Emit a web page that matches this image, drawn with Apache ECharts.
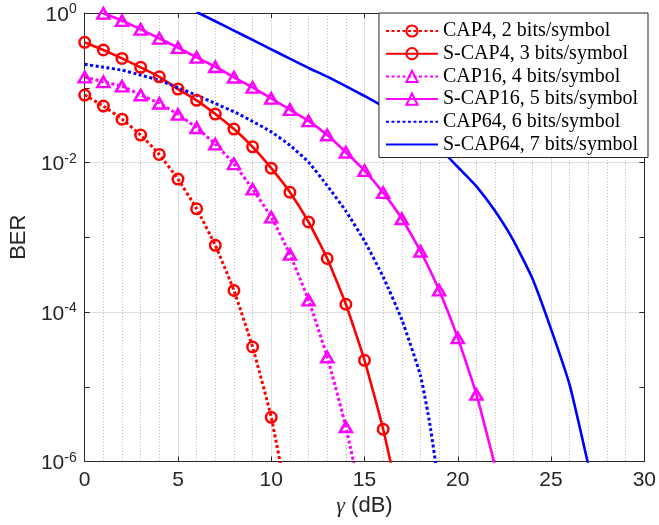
<!DOCTYPE html>
<html><head><meta charset="utf-8">
<script src="https://cdn.jsdelivr.net/npm/echarts@6/dist/echarts.min.js"></script>
<style>html,body{margin:0;padding:0;background:#fff}#c{width:659px;height:525px}</style>
</head><body><div id="c"></div>
<script>
// ---- data ----
const seriesNames = ['CAP4, 2 bits/symbol','S-CAP4, 3 bits/symbol','CAP16, 4 bits/symbol','S-CAP16, 5 bits/symbol','CAP64, 6 bits/symbol','S-CAP64, 7 bits/symbol'];

const cap4X = [0,1,2,3,4,5,6,7,8,9,10];
const cap4Y = [0.0798,0.0569,0.038,0.0233,0.0128,0.006,0.0024,7.8e-4,1.94e-4,3.4e-5,3.9e-6];
const cap4TailX = [11];
const cap4TailY = [2e-7];

const scap4X = [0,1,2,3,4,5,6,7,8,9,10,11,12,13,14,15,16];
const scap4Y = [0.405,0.32,0.247,0.1875,0.14,0.096,0.0678,0.0445,0.028,0.0162,0.0084,0.004,0.0016,5.2e-4,1.27e-4,2.26e-5,2.7e-6];
const scap4TailX = [17];
const scap4TailY = [2e-7];

const cap16X = [0,1,2,3,4,5,6,7,8,9,10,11,12,13,14];
const cap16Y = [0.139,0.12,0.105,0.08,0.062,0.044,0.0292,0.0176,0.0096,0.0044,0.00186,5.9e-4,1.44e-4,2.5e-5,2.9e-6];
const cap16TailX = [15];
const cap16TailY = [2e-7];

const scap16X = [1,2,3,4,5,6,7,8,9,10,11,12,13,14,15,16,17,18,19,20,21];
const scap16Y = [0.99,0.79,0.605,0.458,0.344,0.255,0.191,0.138,0.101,0.072,0.051,0.036,0.0233,0.0137,0.0078,0.00395,0.00177,6.5e-4,1.96e-4,4.5e-5,7.9e-6];
const scap16TailX = [22];
const scap16TailY = [8.7e-7];

const cap64X = [0,1,2,3,4,5,6,7,8,9,10,11,12,13,14,15,16,17,18,18.5,19];
const cap64Y = [0.2056,0.1884,0.1718,0.1479,0.1259,0.1,0.0794,0.0617,0.0479,0.0355,0.0257,0.017,0.0101,0.0049,0.00224,8.9e-4,2.95e-4,7.9e-5,1.41e-5,3.2e-6,4.5e-7];

const scap64X = [6,7,8,9,10,11,12,13,14,15,16,17,18,19,20,21,22,23,24,25,26,27];
const scap64Y = [1.03,0.776,0.582,0.4365,0.327,0.245,0.184,0.141,0.105,0.0776,0.0562,0.0398,0.0263,0.0158,0.0087,0.00479,0.00224,8.9e-4,2.8e-4,5.9e-5,1.05e-5,8.9e-7];

const xTickValues = [0,5,10,15,20,25,30];
const yLabelExponents = [0,-2,-4,-6];

// ---- build ----
function build(xs, ys, tx, ty) {
  const d = xs.map((x, i) => [x, ys[i]]);
  (tx || []).forEach((x, i) => d.push({ value: [x, ty[i]], symbol: 'none' }));
  return d;
}
const RED = '#ff0000', MAG = '#ff00ff', BLUE = '#0000ff';
const AX = '#262626';
const dotted = [3, 2.5];
const CLEAR = 'rgba(0,0,0,0)';

function mk(name, data, color, dashed, symbol, size) {
  return {
    name, type: 'line', data,
    symbol: symbol || 'none',
    symbolSize: size || 10,
    showSymbol: !!symbol,
    smooth: 0.15,
    clip: true,
    lineStyle: { color, width: dashed ? 3 : 2.6, type: dashed ? dotted : 'solid', cap: 'butt' },
    itemStyle: symbol
      ? { color: CLEAR, borderColor: color, borderWidth: 2.5 }
      : { color: CLEAR, borderColor: CLEAR, borderWidth: 0, opacity: 0 },
    emphasis: { disabled: true },
    animation: false
  };
}

const chart = echarts.init(document.getElementById('c'), null, { renderer: 'canvas' });
const tickFont = 'Liberation Sans, Arial, sans-serif';

chart.setOption({
  backgroundColor: '#ffffff',
  animation: false,
  grid: { left: 83, right: 9.5, top: 13, bottom: 63.5, containLabel: false },
  legend: {
    orient: 'vertical', top: 13, right: 11,
    padding: [8, 10, 3, 6],
    itemWidth: 52, itemHeight: 14, itemGap: 2.7,
    backgroundColor: '#ffffff', borderColor: AX, borderWidth: 1,
    textStyle: { fontFamily: 'Liberation Serif, serif', fontSize: 20, color: '#000', lineHeight: 20 },
    data: seriesNames.map((n, i) => i < 4 ? n : { name: n, itemStyle: { color: CLEAR, borderColor: CLEAR, borderWidth: 0, opacity: 0 } })
  },
  xAxis: [{
    type: 'value', min: 0, max: 30, interval: 5,
    axisLine: { onZero: false, lineStyle: { color: AX, width: 1 } },
    axisTick: { inside: true, length: 5, lineStyle: { color: AX } },
    axisLabel: { fontSize: 21, color: AX, fontFamily: tickFont, margin: 8,
      formatter: v => xTickValues.includes(v) ? String(v) : '' },
    splitLine: { show: true, lineStyle: { color: '#e0e0e0', width: 1 } },
    minorTick: { show: false, splitNumber: 5 },
    minorSplitLine: { show: true, lineStyle: { color: '#bdbdbd', width: 1, type: [1, 2] } },
    name: '{g|γ} (dB)', nameLocation: 'middle', nameGap: 33,
    nameTextStyle: { fontSize: 22, color: AX, fontFamily: tickFont,
      rich: { g: { fontSize: 22, fontFamily: 'Liberation Serif, serif', fontStyle: 'italic', color: AX } } }
  }, {
    type: 'value', min: 0, max: 30, interval: 5, position: 'top',
    axisLine: { show: true, onZero: false, lineStyle: { color: AX, width: 1 } },
    axisTick: { show: true, inside: true, length: 5, lineStyle: { color: AX } },
    axisLabel: { show: false }, splitLine: { show: false }
  }],
  yAxis: [{
    type: 'log', logBase: 10, min: 1e-6, max: 1,
    axisLine: { show: true, onZero: false, lineStyle: { color: AX, width: 1 } },
    axisTick: { show: true, inside: true, length: 5, lineStyle: { color: AX } },
    axisLabel: {
      color: AX, margin: 8,
      formatter: v => {
        const e = Math.round(Math.log10(v));
        return yLabelExponents.includes(e) ? '{b|10}{s|' + e + '}' : '';
      },
      rich: {
        b: { fontSize: 21, fontFamily: tickFont, color: AX, lineHeight: 21, padding: [4, 0, 0, 0] },
        s: { fontSize: 14, fontFamily: tickFont, color: AX, lineHeight: 14, verticalAlign: 'top' }
      }
    },
    splitLine: { show: true, lineStyle: { color: ['#e0e0e0', CLEAR], width: 1 } },
    name: 'BER', nameLocation: 'middle', nameGap: 54,
    nameTextStyle: { fontSize: 22, color: AX, fontFamily: tickFont }
  }, {
    type: 'log', logBase: 10, min: 1e-6, max: 1, position: 'right',
    axisLine: { show: true, onZero: false, lineStyle: { color: AX, width: 1 } },
    axisTick: { show: true, inside: true, length: 5, lineStyle: { color: AX } },
    axisLabel: { show: false }, splitLine: { show: false }
  }],
  series: [
    mk(seriesNames[0], build(cap4X, cap4Y, cap4TailX, cap4TailY), RED, true, 'circle', 10.5),
    mk(seriesNames[1], build(scap4X, scap4Y, scap4TailX, scap4TailY), RED, false, 'circle', 10.5),
    mk(seriesNames[2], build(cap16X, cap16Y, cap16TailX, cap16TailY), MAG, true, 'triangle', [12, 10.5]),
    mk(seriesNames[3], build(scap16X, scap16Y, scap16TailX, scap16TailY), MAG, false, 'triangle', [12, 10.5]),
    mk(seriesNames[4], build(cap64X, cap64Y), BLUE, true, null),
    mk(seriesNames[5], build(scap64X, scap64Y), BLUE, false, null)
  ]
});
</script></body></html>
